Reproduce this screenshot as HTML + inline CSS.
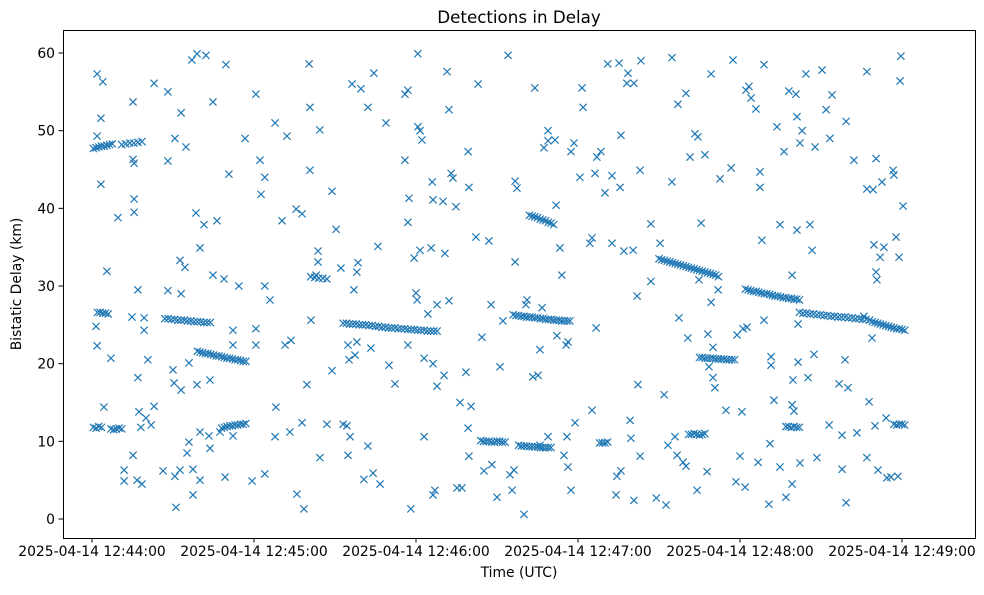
<!DOCTYPE html>
<html><head><meta charset="utf-8"><style>
body{margin:0;background:#fff;}
svg text{font-family:"DejaVu Sans","Liberation Sans",sans-serif;fill:#000;}
</style></head><body>
<svg id="chart" width="984" height="590" xmlns="http://www.w3.org/2000/svg">
<rect width="984" height="590" fill="#fff"/>
<text x="519" y="23" font-size="16.7" text-anchor="middle">Detections in Delay</text>
<g id="marks"></g>
<rect x="63.5" y="30.5" width="912" height="508" fill="none" stroke="#000" stroke-width="1"/>
<g id="xaxis"></g>
<g id="yaxis"></g>
<text x="519" y="577" font-size="13.9" text-anchor="middle">Time (UTC)</text>
<text transform="translate(21,284) rotate(-90)" font-size="13.9" text-anchor="middle">Bistatic Delay (km)</text>
</svg>
<script>
// seconds after 2025-04-14 12:44:00, bistatic delay km
const xTickSeconds=[0,60,120,180,240,300];
const xTickLabels=["2025-04-14 12:44:00","2025-04-14 12:45:00","2025-04-14 12:46:00","2025-04-14 12:47:00","2025-04-14 12:48:00","2025-04-14 12:49:00"];
const yTicks=[0,10,20,30,40,50,60];
const trackSeconds=[0.5,1.5,2.5,3.5,4.5,5.5,6.5,7.5,11,12.5,14,15.5,17,18.5,
2,3,4,5,6, 0.5,1.5,2.5,3.5,7,8,9,10,11,
27,28.2,29.4,30.6,31.8,33,34.2,35.4,36.6,37.8,39,40.2,41.4,42.6,43.8,
39,40,41,42,43,44,45,46,47,48,49,50,51,52,53,54,55,56,57,
48,49,50,51,52,53,54,55,56,57,
81,82.5,84,85.5,87,
93,94.2,95.4,96.6,97.8,99,100.2,101.4,102.6,103.8,105,106.2,107.4,108.6,109.8,111,112.2,113.4,114.6,115.8,117,118.2,119.4,120.6,121.8,123,124.2,125.4,126.6,127.8,
144,145,146,147,148,149,150,151,152,153,
158,159,160,161,162,163,164,165,166,167,168,169,170,
156,157,158,159,160,161,162,163,164,165,166,167,168,169,170,171,172,173,174,175,176,177,
162,163,164,165,166,167,168,169,170,171,
188,189,190,191,
210,211,212,213,214,215,216,217,218,219,220,221,222,223,224,225,226,227,228,229,230,231,232,
225,226,227,228,229,230,231,232,233,234,235,236,237,238,
221,222,223,224,225,226,227,
242,243,244,245,246,247,248,249,250,251,252,253,254,255,256,257,258,259,260,261,262,
257,258,259,260,261,262,
262,263.3,264.6,265.9,267.2,268.5,269.8,271.1,272.4,273.7,275,276.3,277.6,278.9,280.2,281.5,282.8,284.1,285.4,286.7,288,
289,290,291,292,293,294,295,296,297,298,299,300,301,
297,298,299,300,301];
const trackDelays=[47.7,47.8,47.9,48,48,48.1,48.2,48.3,48.2,48.3,48.4,48.4,48.5,48.6,
26.6,26.6,26.5,26.5,26.4, 11.8,11.7,11.9,11.8,11.6,11.5,11.6,11.7,11.6,
25.8,25.8,25.7,25.7,25.6,25.6,25.6,25.5,25.5,25.4,25.4,25.4,25.3,25.3,25.3,
21.6,21.5,21.4,21.3,21.3,21.2,21.1,21,21,20.9,20.8,20.7,20.7,20.6,20.5,20.5,20.4,20.3,20.3,
11.7,11.8,11.9,12,12,12.1,12.1,12.2,12.2,12.3,
31.2,31.1,31,31,30.9,
25.2,25.2,25.1,25.1,25.1,25,25,25,24.9,24.9,24.8,24.8,24.7,24.7,24.6,24.6,24.6,24.5,24.5,24.5,24.4,24.4,24.4,24.3,24.3,24.3,24.2,24.2,24.2,24.2,
10.1,10,10,10,9.9,9.9,10,10,9.9,9.9,
9.5,9.4,9.4,9.4,9.3,9.3,9.3,9.3,9.2,9.2,9.2,9.2,9.2,
26.3,26.2,26.2,26.1,26.1,26,26,26,25.9,25.9,25.8,25.8,25.7,25.7,25.7,25.6,25.6,25.6,25.5,25.5,25.5,25.5,
39.1,39,38.9,38.8,38.6,38.5,38.4,38.2,38.1,37.9,
9.8,9.8,9.8,9.9,
33.5,33.4,33.3,33.2,33.1,33,32.9,32.8,32.7,32.6,32.5,32.4,32.3,32.2,32.1,32,31.9,31.8,31.7,31.6,31.5,31.4,31.2,
20.8,20.8,20.7,20.7,20.7,20.7,20.6,20.6,20.6,20.6,20.5,20.5,20.5,20.5,
10.9,10.9,11,10.9,10.8,10.9,11,
29.6,29.5,29.4,29.3,29.3,29.2,29.1,29,29,28.9,28.8,28.7,28.7,28.6,28.5,28.5,28.4,28.4,28.3,28.3,28.2,
11.9,11.9,11.8,11.9,11.8,11.8,
26.6,26.5,26.5,26.4,26.4,26.3,26.3,26.2,26.2,26.1,26.1,26,26,26,25.9,25.9,25.8,25.8,25.7,25.7,25.6,
25.4,25.3,25.2,25.1,25,24.9,24.8,24.7,24.6,24.5,24.5,24.4,24.3,
12.2,12.1,12.2,12.2,12.1];
const scatterSeconds=[1.9,1.9,3.3,4,3.3,1.9,1.5,4.4,5.5,7,9.6,11.9,11.9,15.2,15.2,15.6,15.6,15.6,14.8,15.2,17,17,17.4,16.7,18.5,18.1,
19.3,19.3,20.7,20,21.9,23,23,26.3,28.1,28.1,28.1,30,30.4,30.7,31.1,32.6,30.7,32.6,33,33,34.4,33,34.8,35.9,35.2,35.9,37,37.4,37.4,
38.9,38.9,40,38.5,40,40,41.5,42.2,43.3,44.8,43.7,43.7,44.8,46.3,47.4,49.6,50.7,49.3,48.9,52.2,52.2,52.2,54.4,56.7,59.3,
60.7,60.7,60.7,62.2,62.6,64,64,64,65.9,67.8,68.1,67.8,70.4,72.2,71.5,73.3,73.7,75.6,75.9,77.8,77.8,78.5,79.6,80.4,80.7,80.7,81.1,83,83.7,83.7,84.4,84.4,
87,88.9,88.9,90.4,92.2,93,94.4,94.8,94.8,95.2,95.6,96.3,97,98.1,98.1,97.4,98.5,99.6,100.7,102.2,102.2,103.3,104.1,104.4,105.9,106.7,108.9,110,112.2,
115.9,115.9,117,117,117.4,117,118.1,119.3,120,120.4,120.7,120.7,121.5,122.2,121.5,123,123,124.4,125.6,126,126.3,126.3,127,126.3,127.8,127.8,130,130.4,130.7,131.5,132.2,132.2,133,133.7,134.8,135.2,136.3,
137,138.5,139.3,139.3,139.6,139.6,140.4,142.2,143,144.4,145.2,147,147.8,148.1,150,151.1,152.2,154.1,154.8,155.6,156.7,157.4,156.7,156.3,160,160.7,161.1,163.3,164,165.2,
165.9,165.9,166.7,167.4,168.9,168.9,168.9,171.5,171.9,172.2,173.3,174,174.8,175.9,175.6,176.3,176.3,177.4,178.5,177.4,178.9,180.7,181.5,181.9,184.4,185.2,185.2,186.3,186.7,187,188.5,
190,191,192.6,192.6,194.1,194.4,195.2,195.6,195.9,195.9,197,198.1,198.5,199.3,199.6,200.4,200.7,200.7,201.9,202.2,203,203.3,203,207,207,209,210.4,
211.9,212.6,213.3,214.8,214.8,215.9,216.7,217,217.4,218.9,220,220,220.7,221.5,223.3,224.1,224.4,224.8,225.6,227,227.8,228.5,228.1,229.3,229.3,230,230,230.7,231.9,232.6,
234.8,236.7,237.4,238.5,238.9,240,240.7,241.1,241.9,242.2,242.6,243.3,244.1,245.9,246.7,247.4,247.4,248.1,248.9,248.9,250.7,251.1,251.5,251.5,252.6,253.7,254.8,254.8,256.3,257,258.1,259.3,259.3,259.3,259.6,260,260.7,261.1,261.1,261.5,261.5,262.2,262.2,
263,264.4,265.2,265.9,266.7,267.4,267.8,268.5,270.4,271.9,273,274.1,273.3,276.7,277.8,277.8,278.9,279.3,279.3,280,282.2,283.3,285.9,287,287,287,287.8,288.9,289.3,289.6,290,290.4,290.4,290.7,291.1,291.9,292.6,293.3,294.1,294.4,295.9,296.7,297,297.8,298.5,298.9,299.3,299.6,300.4];
const scatterDelays=[57.3,49.3,51.6,56.3,43.1,22.3,24.8,14.4,31.9,20.7,38.8,6.3,4.9,53.7,46.3,45.8,41.2,39.5,26,8.2,29.5,18.2,13.8,5,4.5,11.8,
25.9,24.3,20.5,13,12.1,14.5,56.1,6.2,55,46.1,29.4,19.2,17.5,5.5,1.5,6.3,49,33.3,52.3,29,32.4,16.6,47.9,9.9,8.5,20.1,59.1,6.4,3.1,
59.9,17.3,11.2,39.4,34.9,5,37.9,59.7,10.7,53.7,17.9,9.1,31.4,38.4,11.2,58.5,44.4,5.4,30.9,24.3,22.4,10.7,30,49,4.9,
24.5,22.4,54.7,46.2,41.8,44,30,5.8,28.2,51,14.4,10.6,38.4,49.3,22.4,11.2,23,39.9,3.2,39.3,12.4,1.3,17.3,58.6,53,44.9,25.6,31.4,34.5,33.1,50.1,7.9,
12.2,19.1,42.2,37.3,32.3,12.2,12,8.2,22.4,20.5,10.6,56,29.5,31.8,22.8,21.1,33,55.4,5.1,9.4,53,22,5.9,57.4,35.1,4.5,51,19.8,17.4,
54.7,46.2,55.2,38.2,41.3,22.4,1.3,33.6,29.1,28.2,59.9,50.5,50,48.8,34.6,10.6,20.7,26.4,34.9,43.4,41.1,20,3.7,3.1,27.6,17.1,40.9,18.5,34.2,57.6,52.7,28.1,44.5,43.9,40.2,4,15,
4,18.9,47.3,11.7,42.7,8.1,14.5,36.3,56,23.4,6.2,35.8,27.6,7,2.8,19.6,25.5,59.7,5.7,3.7,43.5,42.6,33.1,6.3,0.6,27.6,28.2,18.3,55.5,18.5,
21.8,9.5,27.2,47.8,50,48.7,10.6,48.8,40.4,23.6,34.9,31.4,8.2,10.6,22.4,22.8,6.7,47.3,48.4,3.7,12.4,44,55.5,53,35.5,36.2,14,44.5,24.6,46.6,47.3,
42,58.6,35.5,44.2,3.1,5.5,58.7,42.7,49.4,6.2,34.5,56.1,57.4,12.7,10.4,34.6,2.4,56.1,28.7,17.3,8.1,59,44.9,38,30.6,2.7,35.5,
16,1.8,9.5,59.4,43.4,10.6,8.2,53.4,25.9,7.3,54.8,6.8,23.3,46.6,49.6,3.7,49.2,30.8,38.1,46.9,6.1,19.6,23.8,27.9,57.3,22.1,18.2,16.9,29.5,43.8,
14,45.2,59.1,4.8,23.7,8.1,13.8,24.5,4.1,55.2,24.7,55.7,54.2,52.8,7.3,42.7,44.7,35.9,25.6,58.5,1.9,9.7,20.9,19.8,15.3,50.5,37.9,6.7,47.3,2.8,55.1,4.5,31.4,14.7,17.9,13.9,54.7,37.2,51.8,20.2,25.1,48.4,7.2,
50,57.3,18.2,37.9,34.6,21.2,47.9,7.9,57.8,52.7,12.1,54.6,49,17.4,10.8,6.4,20.5,51.2,2.1,16.9,46.2,11.1,26.1,57.6,42.5,7.9,15.1,23.3,42.4,35.3,12,46.4,31.8,30.8,6.3,33.7,43.4,35,13,5.3,5.4,44.9,44.3,36.3,5.5,33.7,56.4,59.6,40.3];

const X0=92, PX_PER_SEC=162/60, Y0=519, PX_PER_KM=(519-53)/60;
const xScale=s=>X0+s*PX_PER_SEC;
const yScale=v=>Y0-v*PX_PER_KM;
const NS="http://www.w3.org/2000/svg";
const marks=document.getElementById('marks');
function drawX(s,v,name){
  const cx=xScale(s), cy=yScale(v), r=3.6;
  const p=document.createElementNS(NS,'path');
  p.setAttribute('d',`M${cx-r},${cy-r}L${cx+r},${cy+r}M${cx-r},${cy+r}L${cx+r},${cy-r}`);
  p.setAttribute('stroke','#1f77b4');
  p.setAttribute('stroke-width','1.2');
  p.setAttribute('fill','none');
  
  
  marks.appendChild(p);
}
trackSeconds.forEach((s,i)=>drawX(s,trackDelays[i],'track-detection'));
scatterSeconds.forEach((s,i)=>drawX(s,scatterDelays[i],'detection-point'));

const xa=document.getElementById('xaxis');
xTickSeconds.forEach((s,i)=>{
  const x=xScale(s);
  const l=document.createElementNS(NS,'line');
  l.setAttribute('x1',x);l.setAttribute('x2',x);l.setAttribute('y1',538);l.setAttribute('y2',542.5);
  l.setAttribute('stroke','#000');
  
  
  xa.appendChild(l);
  const t=document.createElementNS(NS,'text');
  t.setAttribute('x',x);t.setAttribute('y',556);t.setAttribute('font-size','13.9');t.setAttribute('text-anchor','middle');
  t.textContent=xTickLabels[i];
  
  
  xa.appendChild(t);
});
const ya=document.getElementById('yaxis');
yTicks.forEach(v=>{
  const y=yScale(v);
  const l=document.createElementNS(NS,'line');
  l.setAttribute('x1',58.5);l.setAttribute('x2',63);l.setAttribute('y1',y);l.setAttribute('y2',y);
  l.setAttribute('stroke','#000');
  
  
  ya.appendChild(l);
  const t=document.createElementNS(NS,'text');
  t.setAttribute('x',55);t.setAttribute('y',y+5);t.setAttribute('font-size','13.9');t.setAttribute('text-anchor','end');
  t.textContent=String(v);
  
  
  ya.appendChild(t);
});
</script>
</body></html>
